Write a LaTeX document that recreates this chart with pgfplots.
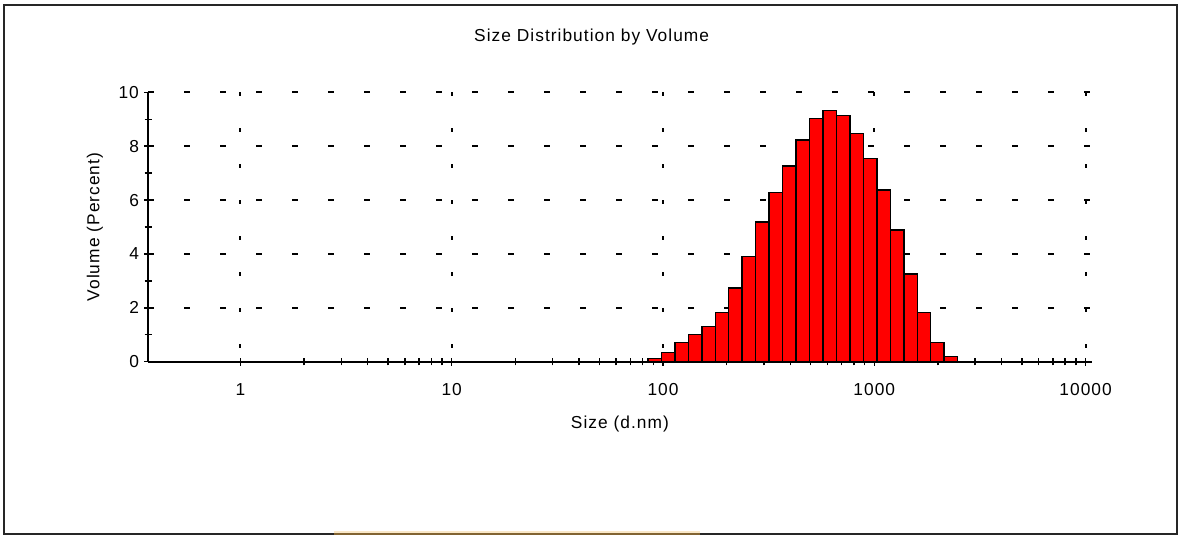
\documentclass[border=0pt]{standalone}
\usepackage{fontspec}
\setmainfont{Liberation Sans}[LetterSpace=6]
\usepackage{pgfplots}
\pgfplotsset{compat=1.18}
\definecolor{barred}{RGB}{255,0,0}
\definecolor{tanlight}{RGB}{250,232,200}
\definecolor{tandark}{RGB}{130,100,50}
\begin{document}
\fontsize{13}{15.5}\selectfont
\begin{tikzpicture}
\useasboundingbox (0,0) rectangle (885pt,401.25pt);
\fill[white] (0,0) rectangle (885pt,401.25pt);
\begin{axis}[
  at={(111.2pt,130pt)}, anchor=south west,
  scale only axis, width=707.5pt, height=202pt,
  xmode=log, xmin=0.3663, xmax=10676, ymin=0, ymax=10,
  axis lines*=left,
  axis line style={line width=1.3pt, black},
  /pgf/number format/assume math mode=true,
  xtick={1,10,100,1000,10000}, xticklabels={1,10,100,1000,10000},
  minor xtick={2,3,4,5,6,7,8,9,20,30,40,50,60,70,80,90,200,300,400,500,600,700,800,900,2000,3000,4000,5000,6000,7000,8000,9000},
  ytick={0,2,4,6,8,10}, minor ytick={1,3,5,7,9},
  tick align=center,
  major tick length=6pt, minor tick length=5.5pt,
  tick style={line width=1.1pt, black},
  xticklabel style={yshift=-9pt},
  yticklabel style={xshift=0.5pt},
  grid=major,
  x grid style={line width=1.4pt, black, dash pattern=on 3pt off 24pt, dash phase=16.5pt},
  y grid style={line width=1.4pt, black, dash pattern=on 4.5pt off 22.5pt},
  title={Size Distribution by Volume},
  title style={at={(axis description cs:0.47,1.174)}, anchor=center},
  xlabel={Size (d.nm)},
  xlabel style={at={(axis description cs:0.5,-0.231)}, anchor=center},
  ylabel={Volume (Percent)},
  ylabel style={at={(axis description cs:-0.0565,0.5)}, anchor=center},
]
\addplot[ybar interval, fill=barred, draw=black, line width=1.1pt] coordinates {
(84.83,0.12) (98.23,0.34) (113.76,0.72) (131.74,1.01) (152.56,1.30)
(176.67,1.83) (204.60,2.73) (236.94,3.91) (274.39,5.18) (317.76,6.29)
(367.99,7.26) (426.16,8.23) (493.51,9.03) (571.52,9.33) (661.85,9.13)
(766.46,8.47) (887.61,7.55) (1028.1,6.38) (1190.6,4.88) (1378.8,3.26)
(1596.7,1.83) (1849.1,0.71) (2141.4,0.19) (2479.8,0)
};
\end{axis}
\draw[line width=1.5pt, black!85] (3.2pt,1.1pt) rectangle (883.1pt,397.5pt);
\fill[tanlight] (250.5pt,0pt) rectangle (525pt,2.8pt);
\fill[tandark] (250.5pt,0pt) rectangle (525pt,1.2pt);
\end{tikzpicture}
\end{document}
